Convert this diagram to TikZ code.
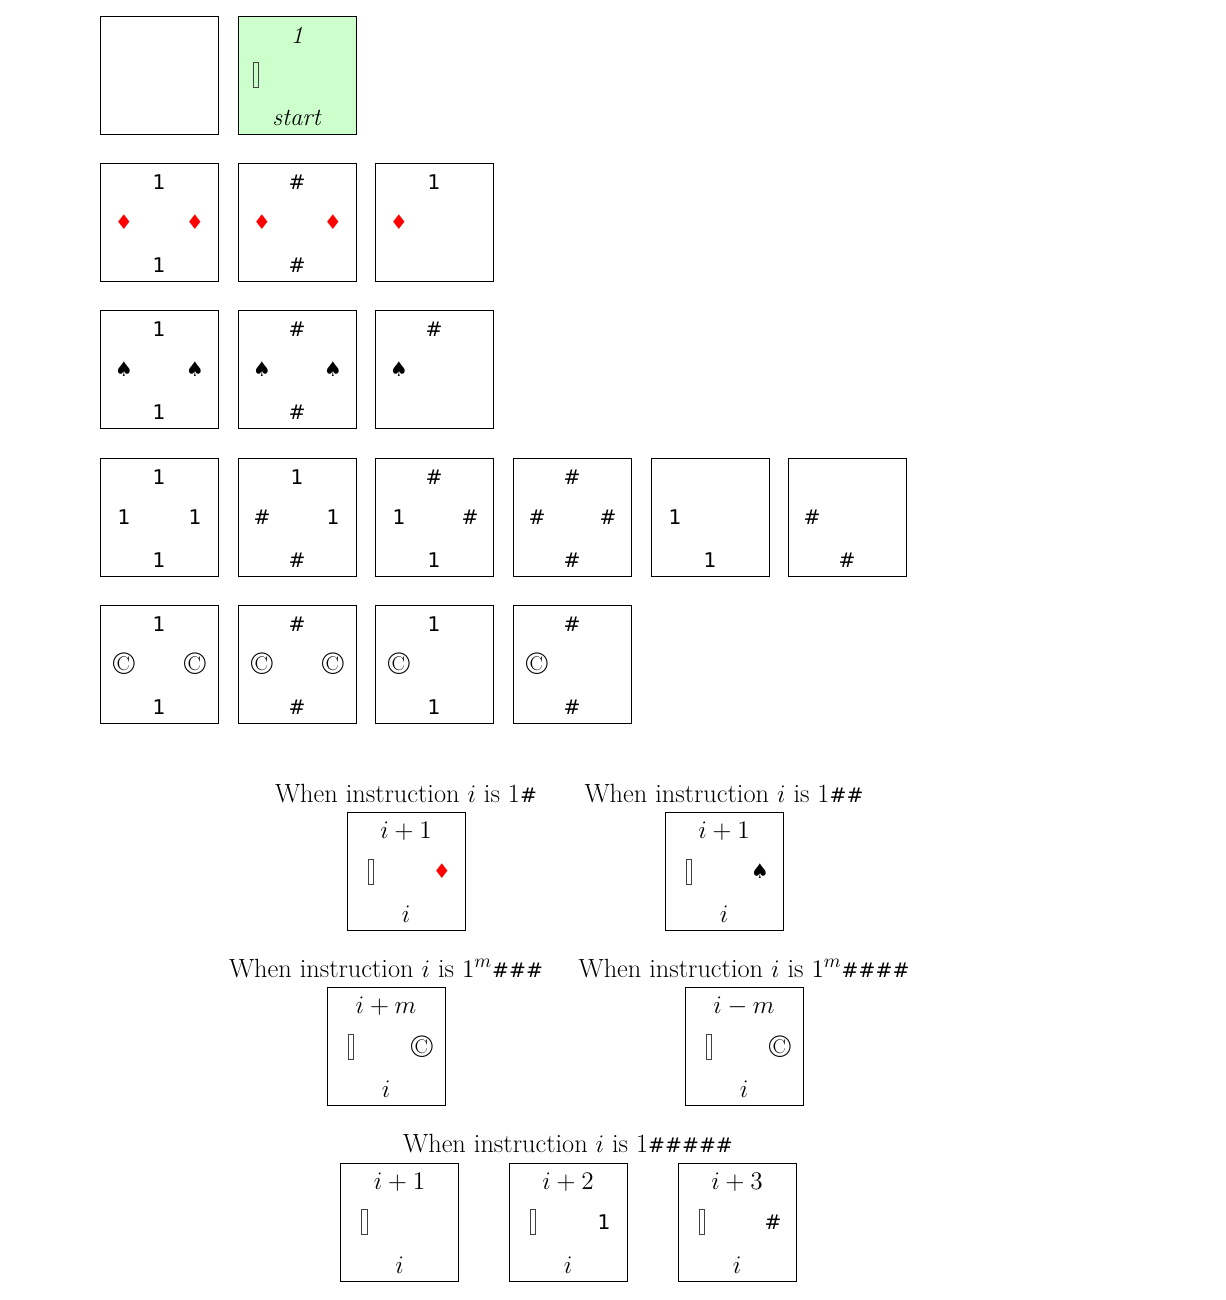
\documentclass[tikz,border=0pt]{standalone}
\usepackage{fontspec}
\newfontfamily\djv{DejaVu Sans}
\definecolor{startgreen}{HTML}{CCFFCC}
\newcommand\hs{{\djv\fontsize{11.5}{13}\selectfont\#}}
\tikzset{
 tilebox/.style={draw, line width=0.5pt, minimum size=2.36cm, inner sep=0pt},
 starttile/.style={tilebox, fill=startgreen},
 sym/.style={font=\djv\fontsize{11.5}{13}\selectfont, inner sep=0pt},
 dia/.style={sym, text=red},
 mlab/.style={font=\fontsize{14}{16}\selectfont, inner sep=0pt},
 cpy/.style={font=\fontsize{18}{20}\selectfont, inner sep=0pt},
 gbox/.style={draw=black!75, line width=0.5pt, minimum width=0.115cm, minimum height=0.5cm, inner sep=0pt},
 title/.style={font=\fontsize{15}{18}\selectfont, anchor=base, inner sep=0pt},
 posT/.style={yshift=0.8cm},
 posB/.style={yshift=-0.86cm},
 posL/.style={xshift=-0.7cm},
 posR/.style={xshift=0.72cm},
}
\begin{document}
\begin{tikzpicture}[x=0.02cm, y=-0.02cm]
\path[use as bounding box] (0,0) rectangle (1225,1300);
% Row 1
\node[tilebox] (r1c1) at (159,75) {};
\node[starttile] (r1c2) at (297,75) {};
\node[mlab, posT] (r1c2t) at (r1c2.center) {\textit{1}};
\node[gbox, xshift=-0.82cm] (r1c2l) at (r1c2.center) {};
\node[mlab, posB] (r1c2b) at (r1c2.center) {\textit{start}};
% Row 2
\node[tilebox] (r2c1) at (159,222) {};
\node[sym, posT] (r2c1t) at (r2c1.center) {1};
\node[dia, posL] (r2c1l) at (r2c1.center) {♦};
\node[dia, posR] (r2c1r) at (r2c1.center) {♦};
\node[sym, posB] (r2c1b) at (r2c1.center) {1};
\node[tilebox] (r2c2) at (297,222) {};
\node[sym, posT] (r2c2t) at (r2c2.center) {\#};
\node[dia, posL] (r2c2l) at (r2c2.center) {♦};
\node[dia, posR] (r2c2r) at (r2c2.center) {♦};
\node[sym, posB] (r2c2b) at (r2c2.center) {\#};
\node[tilebox] (r2c3) at (434,222) {};
\node[sym, posT] (r2c3t) at (r2c3.center) {1};
\node[dia, posL] (r2c3l) at (r2c3.center) {♦};
% Row 3
\node[tilebox] (r3c1) at (159,369.5) {};
\node[sym, posT] (r3c1t) at (r3c1.center) {1};
\node[sym, posL] (r3c1l) at (r3c1.center) {♠};
\node[sym, posR] (r3c1r) at (r3c1.center) {♠};
\node[sym, posB] (r3c1b) at (r3c1.center) {1};
\node[tilebox] (r3c2) at (297,369.5) {};
\node[sym, posT] (r3c2t) at (r3c2.center) {\#};
\node[sym, posL] (r3c2l) at (r3c2.center) {♠};
\node[sym, posR] (r3c2r) at (r3c2.center) {♠};
\node[sym, posB] (r3c2b) at (r3c2.center) {\#};
\node[tilebox] (r3c3) at (434,369.5) {};
\node[sym, posT] (r3c3t) at (r3c3.center) {\#};
\node[sym, posL] (r3c3l) at (r3c3.center) {♠};
% Row 4
\node[tilebox] (r4c1) at (159,517) {};
\node[sym, posT] (r4c1t) at (r4c1.center) {1};
\node[sym, posL] (r4c1l) at (r4c1.center) {1};
\node[sym, posR] (r4c1r) at (r4c1.center) {1};
\node[sym, posB] (r4c1b) at (r4c1.center) {1};
\node[tilebox] (r4c2) at (297,517) {};
\node[sym, posT] (r4c2t) at (r4c2.center) {1};
\node[sym, posL] (r4c2l) at (r4c2.center) {\#};
\node[sym, posR] (r4c2r) at (r4c2.center) {1};
\node[sym, posB] (r4c2b) at (r4c2.center) {\#};
\node[tilebox] (r4c3) at (434,517) {};
\node[sym, posT] (r4c3t) at (r4c3.center) {\#};
\node[sym, posL] (r4c3l) at (r4c3.center) {1};
\node[sym, posR] (r4c3r) at (r4c3.center) {\#};
\node[sym, posB] (r4c3b) at (r4c3.center) {1};
\node[tilebox] (r4c4) at (572,517) {};
\node[sym, posT] (r4c4t) at (r4c4.center) {\#};
\node[sym, posL] (r4c4l) at (r4c4.center) {\#};
\node[sym, posR] (r4c4r) at (r4c4.center) {\#};
\node[sym, posB] (r4c4b) at (r4c4.center) {\#};
\node[tilebox] (r4c5) at (710,517) {};
\node[sym, posL] (r4c5l) at (r4c5.center) {1};
\node[sym, posB] (r4c5b) at (r4c5.center) {1};
\node[tilebox] (r4c6) at (847,517) {};
\node[sym, posL] (r4c6l) at (r4c6.center) {\#};
\node[sym, posB] (r4c6b) at (r4c6.center) {\#};
% Row 5
\node[tilebox] (r5c1) at (159,664) {};
\node[sym, posT] (r5c1t) at (r5c1.center) {1};
\node[cpy, posL] (r5c1l) at (r5c1.center) {\textcopyright};
\node[cpy, posR] (r5c1r) at (r5c1.center) {\textcopyright};
\node[sym, posB] (r5c1b) at (r5c1.center) {1};
\node[tilebox] (r5c2) at (297,664) {};
\node[sym, posT] (r5c2t) at (r5c2.center) {\#};
\node[cpy, posL] (r5c2l) at (r5c2.center) {\textcopyright};
\node[cpy, posR] (r5c2r) at (r5c2.center) {\textcopyright};
\node[sym, posB] (r5c2b) at (r5c2.center) {\#};
\node[tilebox] (r5c3) at (434,664) {};
\node[sym, posT] (r5c3t) at (r5c3.center) {1};
\node[cpy, posL] (r5c3l) at (r5c3.center) {\textcopyright};
\node[sym, posB] (r5c3b) at (r5c3.center) {1};
\node[tilebox] (r5c4) at (572,664) {};
\node[sym, posT] (r5c4t) at (r5c4.center) {\#};
\node[cpy, posL] (r5c4l) at (r5c4.center) {\textcopyright};
\node[sym, posB] (r5c4b) at (r5c4.center) {\#};
% Instruction cases
\node[title] (tA) at (406,802) {When instruction $i$ is 1\hs};
\node[tilebox] (cA) at (406,871.5) {};
\node[mlab, posT] (cAt) at (cA.center) {$i+1$};
\node[gbox, posL] (cAl) at (cA.center) {};
\node[dia, posR] (cAr) at (cA.center) {♦};
\node[mlab, posB] (cAb) at (cA.center) {$i$};

\node[title] (tB) at (724,802) {When instruction $i$ is 1\hs\hs};
\node[tilebox] (cB) at (724,871.5) {};
\node[mlab, posT] (cBt) at (cB.center) {$i+1$};
\node[gbox, posL] (cBl) at (cB.center) {};
\node[sym, posR] (cBr) at (cB.center) {♠};
\node[mlab, posB] (cBb) at (cB.center) {$i$};

\node[title] (tC) at (386,977) {When instruction $i$ is $1^m$\hs\hs\hs};
\node[tilebox] (cC) at (386,1046.5) {};
\node[mlab, posT] (cCt) at (cC.center) {$i+m$};
\node[gbox, posL] (cCl) at (cC.center) {};
\node[cpy, posR] (cCr) at (cC.center) {\textcopyright};
\node[mlab, posB] (cCb) at (cC.center) {$i$};

\node[title] (tD) at (744,977) {When instruction $i$ is $1^m$\hs\hs\hs\hs};
\node[tilebox] (cD) at (744,1046.5) {};
\node[mlab, posT] (cDt) at (cD.center) {$i-m$};
\node[gbox, posL] (cDl) at (cD.center) {};
\node[cpy, posR] (cDr) at (cD.center) {\textcopyright};
\node[mlab, posB] (cDb) at (cD.center) {$i$};

\node[title] (tE) at (568,1152) {When instruction $i$ is 1\hs\hs\hs\hs\hs};
\node[tilebox] (cE) at (399.5,1222) {};
\node[mlab, posT] (cEt) at (cE.center) {$i+1$};
\node[gbox, posL] (cEl) at (cE.center) {};
\node[mlab, posB] (cEb) at (cE.center) {$i$};
\node[tilebox] (cF) at (568,1222) {};
\node[mlab, posT] (cFt) at (cF.center) {$i+2$};
\node[gbox, posL] (cFl) at (cF.center) {};
\node[sym, posR] (cFr) at (cF.center) {1};
\node[mlab, posB] (cFb) at (cF.center) {$i$};
\node[tilebox] (cG) at (737,1222) {};
\node[mlab, posT] (cGt) at (cG.center) {$i+3$};
\node[gbox, posL] (cGl) at (cG.center) {};
\node[sym, posR] (cGr) at (cG.center) {\#};
\node[mlab, posB] (cGb) at (cG.center) {$i$};
\end{tikzpicture}
\end{document}
